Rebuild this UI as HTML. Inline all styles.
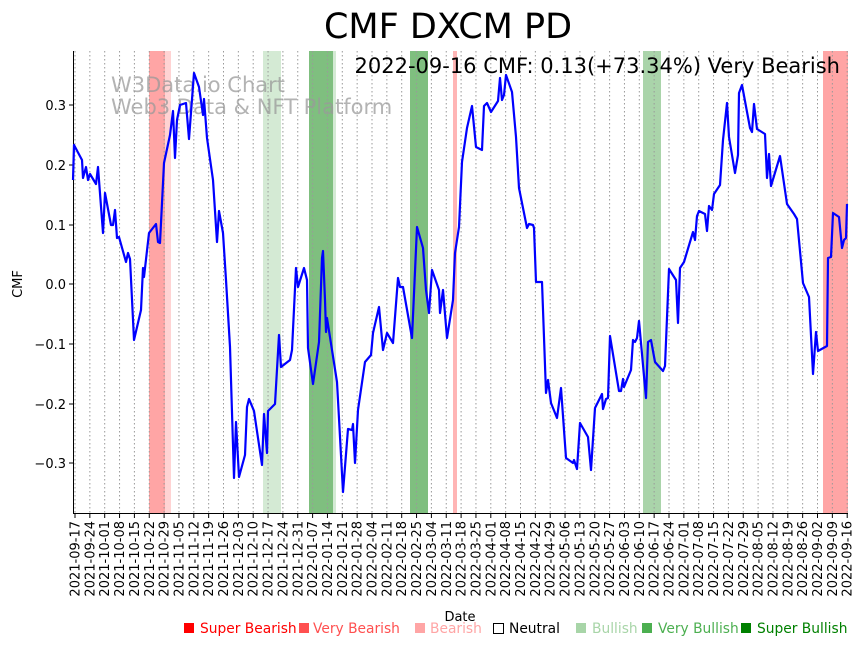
<!DOCTYPE html>
<html><head><meta charset="utf-8"><style>body{margin:0;background:#fff}svg{display:block;font-family:"DejaVu Sans","Liberation Sans",sans-serif}</style></head>
<body>
<svg width="864" height="646" xmlns="http://www.w3.org/2000/svg">
<rect width="864" height="646" fill="#fff"/>
<g>
<rect x="149" y="51" width="16" height="462" fill="#ffa5a5"/>
<rect x="165" y="51" width="6" height="462" fill="#ffd3d3"/>
<rect x="263" y="51" width="18" height="462" fill="#d4ead4"/>
<rect x="309" y="51" width="24" height="462" fill="#7fbf7f"/>
<rect x="333" y="51" width="3" height="462" fill="#d4ead4"/>
<rect x="410" y="51" width="18" height="462" fill="#7fbf7f"/>
<rect x="453" y="51" width="4" height="462" fill="#ffb5b5"/>
<rect x="643" y="51" width="18" height="462" fill="#aad4aa"/>
<rect x="823" y="51" width="25" height="462" fill="#ffa5a5"/>
</g>
<g id="grid" stroke="#999" stroke-width="1" stroke-dasharray="1.5,2.5"></g>
<g id="ticks" stroke="#000" stroke-width="1"></g>
<g id="labels" font-size="13" fill="#000"></g>
<line x1="73.5" y1="51" x2="73.5" y2="514" stroke="#000"/>
<line x1="73" y1="513.5" x2="848" y2="513.5" stroke="#000"/>
<g stroke="#000">
<line x1="69" y1="105" x2="73" y2="105"/><line x1="69" y1="165" x2="73" y2="165"/><line x1="69" y1="225" x2="73" y2="225"/><line x1="69" y1="284" x2="73" y2="284"/><line x1="69" y1="344" x2="73" y2="344"/><line x1="69" y1="404" x2="73" y2="404"/><line x1="69" y1="463" x2="73" y2="463"/>
</g>
<g font-size="13" text-anchor="end">
<text x="66" y="110">0.3</text><text x="66" y="170">0.2</text><text x="66" y="230">0.1</text><text x="66" y="289">0.0</text><text x="66" y="349">−0.1</text><text x="66" y="409">−0.2</text><text x="66" y="468">−0.3</text>
</g>
<text transform="translate(22,284) rotate(-90)" font-size="13" text-anchor="middle">CMF</text>
<text x="460" y="621" font-size="13" text-anchor="middle">Date</text>
<text x="448" y="38" font-size="35" text-anchor="middle">CMF DXCM PD</text>
<text x="840" y="73" font-size="21" text-anchor="end">2022-09-16 CMF: 0.13(+73.34%) Very Bearish</text>
<text x="111" y="92" font-size="21" fill="#999" fill-opacity="0.75">W3Data.io Chart</text>
<text x="111" y="114" font-size="21" fill="#999" fill-opacity="0.75">Web3 Data &amp; NFT Platform</text>
<polyline fill="none" stroke="#0000ff" stroke-width="2.2" stroke-linejoin="round" points="73,180 74,145 82,160 83,178 86,167 88,180 90,174 96,184 98,167 103,233 105,193 111,225 113,225 115,210 117,238 119,237 126,262 128,253 130,259 134,340 141,310 143,268 144,277 149,233 156,224 158,242 160,243 164,163 170,135 173,111 175,158 177,120 180,105 186,103 189,139 194,73 199,87 203,115 204,99 207,138 213,180 217,242 219,211 223,233 226,280 230,347 234,478 236,422 239,477 245,455 247,407 249,399 254,411 262,465 264,414 267,453 268,411 275,404 279,335 281,367 290,360 292,350 296,268 298,287 304,268 307,280 308,348 313,384 319,342 322,258 323,251 325,300 326,332 327,318 337,382 343,492 348,429 352,430 353,424 355,463 358,410 365,362 371,355 373,333 379,307 383,350 387,333 393,343 398,278 400,287 403,287 412,338 417,227 423,248 426,290 429,313 432,270 439,290 440,313 443,290 447,338 453,300 455,253 459,227 462,162 467,128 472,106 476,147 482,150 484,106 487,103 491,112 498,101 500,78 502,100 504,95 506,75 512,92 516,137 519,188 527,228 529,224 533,225 534,228 536,282 542,282 546,393 548,380 551,403 557,418 561,388 566,458 573,463 574,460 577,469 580,423 588,437 591,470 595,408 602,394 603,409 606,399 608,398 610,336 619,391 621,391 623,379 624,387 631,370 633,340 635,342 637,338 639,321 646,398 648,342 651,340 655,362 663,371 665,366 669,269 676,280 678,323 680,268 684,262 693,232 695,240 697,216 699,211 705,214 707,231 709,206 712,210 714,194 720,185 723,140 727,103 729,137 735,173 738,155 739,93 742,85 750,128 752,132 754,104 757,129 765,134 767,178 769,154 771,186 780,156 787,204 794,214 797,219 803,283 809,297 813,374 816,332 818,351 827,346 828,258 831,257 833,213 839,217 842,248 844,240 846,238 847,204"/>
<g font-size="13.8">
<rect x="184" y="623" width="10" height="10" fill="#ff0000"/><text x="200" y="633" fill="#ff0000">Super Bearish</text>
<rect x="299" y="623" width="10" height="10" fill="#ff5050"/><text x="313" y="633" fill="#ff5050">Very Bearish</text>
<rect x="415" y="623" width="10" height="10" fill="#ffa5a5"/><text x="430" y="633" fill="#ffa5a5">Bearish</text>
<rect x="493.5" y="623.5" width="10" height="10" fill="none" stroke="#000"/><text x="509" y="633">Neutral</text>
<rect x="576" y="623" width="10" height="10" fill="#a8d5a8"/><text x="592" y="633" fill="#a8d5a8">Bullish</text>
<rect x="642" y="623" width="10" height="10" fill="#4caf50"/><text x="658" y="633" fill="#4caf50">Very Bullish</text>
<rect x="741" y="623" width="10" height="10" fill="#008000"/><text x="757" y="633" fill="#008000">Super Bullish</text>
</g>
<script>
(function(){
var ns="http://www.w3.org/2000/svg";
var g=document.getElementById("grid"),t=document.getElementById("ticks"),l=document.getElementById("labels");
var d=new Date(Date.UTC(2021,8,17));
for(var i=0;i<53;i++){
 var x=75+i*14.85;
 var a=document.createElementNS(ns,"line");a.setAttribute("x1",x);a.setAttribute("x2",x);a.setAttribute("y1",51);a.setAttribute("y2",513);g.appendChild(a);
 var b=document.createElementNS(ns,"line");b.setAttribute("x1",x);b.setAttribute("x2",x);b.setAttribute("y1",514);b.setAttribute("y2",518);t.appendChild(b);
 var s=d.toISOString().slice(0,10);
 var tx=document.createElementNS(ns,"text");tx.setAttribute("transform","translate("+(x+4.5)+",521) rotate(-90)");tx.setAttribute("text-anchor","end");tx.textContent=s;l.appendChild(tx);
 d=new Date(d.getTime()+7*864e5);
}
})();
</script>
</svg>
</body></html>
